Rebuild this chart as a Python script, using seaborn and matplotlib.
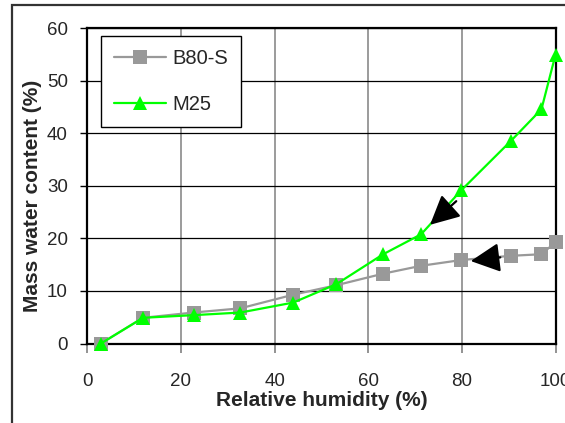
import matplotlib
matplotlib.use("Agg")
import matplotlib.pyplot as plt
from matplotlib.patches import Rectangle
import seaborn as sns
import pandas as pd

# Sorption isotherm values
rel_humidity = [2.9, 11.9, 22.7, 32.7, 44.0, 53.2, 63.2, 71.3, 79.9, 90.5, 97.0, 100.0]
b80s = [0.0, 4.9, 5.9, 6.7, 9.3, 11.1, 13.3, 14.8, 15.9, 16.7, 17.0, 19.3]
m25 = [0.0, 4.9, 5.4, 5.9, 7.8, 11.3, 17.0, 20.8, 29.2, 38.6, 44.6, 55.0]
series_names = ["B80-S", "M25"]
x_ticks = [0, 20, 40, 60, 80, 100]
y_ticks = [0, 10, 20, 30, 40, 50, 60]

df = pd.DataFrame({
    "RH": rel_humidity * 2,
    "MWC": b80s + m25,
    "Sample": [series_names[0]] * len(b80s) + [series_names[1]] * len(m25),
})

sns.set_style("white")
plt.rcParams["font.family"] = ["Liberation Sans", "DejaVu Sans"]

fig = plt.figure(figsize=(5.65, 4.23), dpi=100)
ax = fig.add_axes([0.1545, 0.1879, 0.8287, 0.745])

sns.lineplot(
    data=df, x="RH", y="MWC", hue="Sample", style="Sample",
    hue_order=series_names, style_order=series_names,
    palette={"B80-S": "#999999", "M25": "#00ff00"},
    markers={"B80-S": "s", "M25": "^"}, dashes=False,
    markersize=10, markeredgewidth=0, linewidth=1.6,
    legend=False, ax=ax, clip_on=False, zorder=3,
)

ax.set_xlim(0, 100)
ax.set_ylim(0, 60)
ax.set_xticks(x_ticks)
ax.set_yticks(y_ticks)

# Excel-like grid: black horizontal, gray vertical
ax.grid(axis="y", color="black", linewidth=0.9)
ax.grid(axis="x", color="#808080", linewidth=1.1)
for side in ["left", "right", "top", "bottom"]:
    ax.spines[side].set_visible(True)
    ax.spines[side].set_color("black")
    ax.spines[side].set_linewidth(1.6)

ax.tick_params(axis="x", direction="out", length=6.5, width=1.2, color="#808080",
               pad=15, labelsize=13.5, bottom=True)
ax.tick_params(axis="y", direction="out", length=5, width=1.0, color="black",
               pad=9, labelsize=13.5, left=True)

ax.set_xlabel("Relative humidity (%)", fontweight="bold", fontsize=15)
ax.set_ylabel("Mass water content (%)", fontweight="bold", fontsize=15)
ax.xaxis.set_label_coords(0.5, -0.1815)
ax.xaxis.label.set_va("center")
ax.yaxis.set_label_coords(-0.118, 0.47)
ax.yaxis.label.set_va("center")

# arrows pointing at the curves
arrow_style = dict(arrowstyle="-|>,head_length=0.9,head_width=0.45",
                   mutation_scale=20, color="black", lw=1.6,
                   shrinkA=0, shrinkB=0)
ax.annotate("", xy=(73.2, 22.6), xytext=(78.8, 27.1), arrowprops=arrow_style, zorder=4)
ax.annotate("", xy=(81.9, 15.7), xytext=(88.2, 16.4), arrowprops=arrow_style, zorder=4)

leg = ax.legend(
    handles=ax.lines[:2], labels=series_names,
    loc="upper left", bbox_to_anchor=(0.0286, 0.9756), borderaxespad=0,
    fontsize=14.5, frameon=True, fancybox=False, framealpha=1,
    edgecolor="black", borderpad=0.65, handlelength=2.6, handletextpad=0.3,
    labelspacing=1.35,
)
leg.get_frame().set_linewidth(1.0)

# outer chart frame (cut off at right and bottom like the source)
fig.patches.append(Rectangle((12 / 565, -0.2), 1.5, 1.2 - 5 / 423,
                             transform=fig.transFigure, fill=False,
                             edgecolor="#333333", linewidth=1.6))

fig.savefig("out.png", dpi=100)
